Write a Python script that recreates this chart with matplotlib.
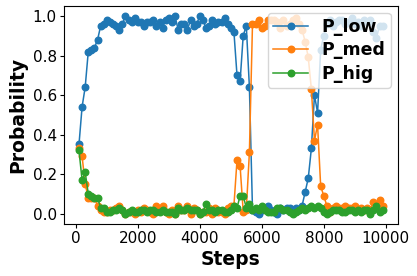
import numpy as np
import matplotlib
matplotlib.use("Agg")
import matplotlib.pyplot as plt

# Steps of the training run
steps = list(range(100, 10000, 100))

p_low = [0.35, 0.54, 0.64, 0.82, 0.83, 0.84, 0.88, 0.95, 0.96, 0.98,
         0.97, 0.96, 0.95, 0.93, 0.96, 1.00, 0.98, 0.97, 0.99, 0.97,
         0.97, 0.95, 0.97, 0.97, 0.98, 0.95, 0.97, 0.94, 0.98, 0.99,
         0.97, 1.00, 0.93, 0.96, 0.96, 0.93, 0.98, 0.95, 0.96, 1.00,
         0.98, 0.94, 0.95, 0.98, 0.96, 0.97, 0.97, 0.99, 0.96, 0.94,
         0.92, 0.70, 0.67, 0.90, 0.95, 0.64, 0.02, 0.01, 0.00, 0.02,
         0.03, 0.04, 0.02, 0.01, 0.00, 0.03, 0.02, 0.03, 0.03, 0.02,
         0.03, 0.02, 0.04, 0.11, 0.18, 0.33, 0.60, 0.51, 0.83, 0.90,
         0.96, 0.98, 0.95, 0.97, 0.98, 0.98, 0.96, 0.97, 0.99, 0.96,
         0.97, 0.95, 0.98, 0.97, 0.98, 0.92, 0.89, 0.95, 0.95]

p_med = [0.33, 0.29, 0.15, 0.08, 0.08, 0.08, 0.04, 0.02, 0.01, 0.01,
         0.02, 0.02, 0.03, 0.04, 0.02, 0.00, 0.01, 0.01, 0.00, 0.02,
         0.01, 0.03, 0.02, 0.01, 0.00, 0.04, 0.02, 0.04, 0.01, 0.00,
         0.02, 0.00, 0.04, 0.02, 0.02, 0.04, 0.00, 0.03, 0.02, 0.00,
         0.01, 0.01, 0.03, 0.00, 0.03, 0.01, 0.01, 0.00, 0.03, 0.04,
         0.04, 0.27, 0.24, 0.01, 0.02, 0.31, 0.96, 0.96, 0.98, 0.94,
         0.95, 0.98, 0.98, 0.98, 0.97, 0.94, 0.98, 0.95, 0.96, 0.98,
         0.99, 0.96, 0.93, 0.87, 0.79, 0.63, 0.37, 0.45, 0.14, 0.09,
         0.04, 0.01, 0.03, 0.04, 0.03, 0.03, 0.04, 0.03, 0.03, 0.04,
         0.02, 0.03, 0.02, 0.03, 0.02, 0.06, 0.03, 0.07, 0.04]

p_hig = [0.32, 0.17, 0.21, 0.10, 0.09, 0.08, 0.08, 0.03, 0.03, 0.01,
         0.01, 0.02, 0.02, 0.03, 0.02, 0.00, 0.01, 0.02, 0.01, 0.01,
         0.02, 0.02, 0.01, 0.02, 0.02, 0.01, 0.01, 0.02, 0.01, 0.01,
         0.01, 0.00, 0.03, 0.02, 0.02, 0.03, 0.02, 0.02, 0.02, 0.00,
         0.01, 0.05, 0.02, 0.02, 0.01, 0.02, 0.02, 0.01, 0.01, 0.02,
         0.04, 0.03, 0.09, 0.09, 0.03, 0.05, 0.02, 0.03, 0.02, 0.04,
         0.02, 0.01, 0.01, 0.01, 0.03, 0.03, 0.02, 0.02, 0.01, 0.00,
         0.01, 0.02, 0.03, 0.02, 0.03, 0.04, 0.03, 0.04, 0.03, 0.01,
         0.00, 0.01, 0.02, 0.02, 0.02, 0.01, 0.01, 0.02, 0.02, 0.01,
         0.02, 0.01, 0.02, 0.02, 0.00, 0.02, 0.04, 0.01, 0.02]

series = [("P_low", p_low), ("P_med", p_med), ("P_hig", p_hig)]

fig = plt.figure(figsize=(4.17, 2.76), dpi=100)
ax = fig.add_axes([0.153, 0.19, 0.801, 0.788])

for name, vals in series:
    ax.plot(steps, vals, marker="o", markersize=4.7, linewidth=1.1, label=name)

ax.set_xlabel("Steps", fontsize=13.5, fontweight="bold", labelpad=3)
ax.set_ylabel("Probability", fontsize=13.5, fontweight="bold", labelpad=4)
ax.tick_params(labelsize=11, length=3, pad=2)
ax.set_xticks([0, 2000, 4000, 6000, 8000, 10000])
ax.set_yticks([0.0, 0.2, 0.4, 0.6, 0.8, 1.0])

ax.legend(loc="upper right", prop={"size": 12.5, "weight": "bold"},
          borderpad=0.3, labelspacing=0.3, handlelength=2.0, borderaxespad=0.4)

fig.savefig("out.png", dpi=100)
